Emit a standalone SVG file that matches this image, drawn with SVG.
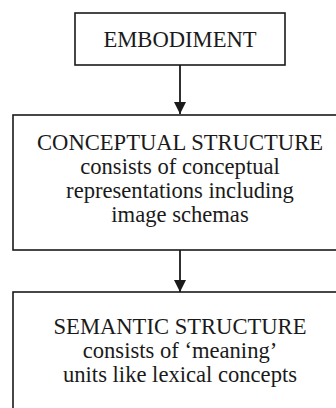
<svg xmlns="http://www.w3.org/2000/svg" width="336" height="408" viewBox="0 0 336 408">
  <style>
    .box { fill: #ffffff; stroke: #1a1a1a; stroke-width: 1.6; }
    .t { font-family: "Liberation Serif", "Times New Roman", serif; font-size: 22.6px; fill: #1a1a1a; text-anchor: middle; }
    .conn { stroke: #1a1a1a; stroke-width: 1.8; fill: none; }
  </style>
  <defs>
    <marker id="arrow" markerUnits="userSpaceOnUse" markerWidth="13" markerHeight="13" refX="12" refY="6" orient="auto">
      <path d="M0,0 L12,6 L0,12 Z" fill="#1a1a1a"/>
    </marker>
  </defs>
  <rect width="336" height="408" fill="#ffffff"/>
  <g id="connectors">
    <line class="conn" x1="180" y1="65" x2="180" y2="114" marker-end="url(#arrow)"/>
    <line class="conn" x1="180" y1="250" x2="180" y2="292" marker-end="url(#arrow)"/>
  </g>
  <g id="embodiment">
    <rect class="box" x="75" y="13" width="210" height="52"/>
    <text class="t" x="180" y="47">EMBODIMENT</text>
  </g>
  <g id="conceptual-structure">
    <rect class="box" x="13" y="115" width="334" height="135"/>
    <text class="t" x="180" y="150">CONCEPTUAL STRUCTURE</text>
    <text class="t" x="180" y="174">consists of conceptual</text>
    <text class="t" x="180" y="198">representations including</text>
    <text class="t" x="180" y="222">image schemas</text>
  </g>
  <g id="semantic-structure">
    <rect class="box" x="13" y="292" width="334" height="130"/>
    <text class="t" x="180" y="334">SEMANTIC STRUCTURE</text>
    <text class="t" x="180" y="358">consists of ‘meaning’</text>
    <text class="t" x="180" y="382">units like lexical concepts</text>
  </g>
</svg>
